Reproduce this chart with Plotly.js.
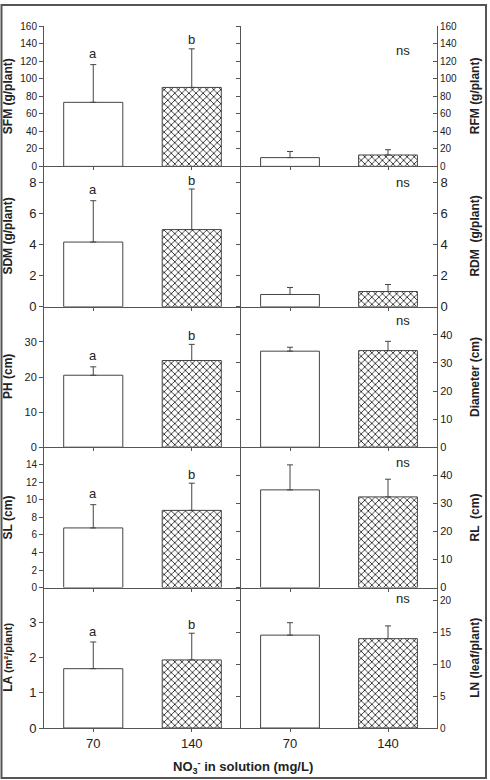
<!DOCTYPE html>
<html>
<head>
<meta charset="utf-8">
<script src="https://cdn.plot.ly/plotly-3.0.1.min.js"></script>
<style>
  html, body { margin: 0; padding: 0; background: #ffffff; }
  #chart { width: 490px; height: 780px; }
</style>
</head>
<body>
<div id="chart"></div>
<script>
// Nitrate dose treatments (mg/L NO3- in the nutrient solution)
const doses = ['70', '140'];

// Shoot traits (left column): means and upper error (SD)
const sfmMean = [73, 90];      const sfmErr = [43, 44];
const sdmMean = [4.15, 4.95];  const sdmErr = [2.65, 2.6];
const phMean  = [20.5, 24.7];  const phErr  = [2.4, 4.6];
const slMean  = [6.8, 8.8];    const slErr  = [2.65, 3.1];
const laMean  = [1.69, 1.94];  const laErr  = [0.76, 0.76];

// Root / stem traits (right column)
const rfmMean  = [10, 13];     const rfmErr  = [7, 6];
const rdmMean  = [0.79, 0.98]; const rdmErr  = [0.45, 0.45];
const diamMean = [34.2, 34.4]; const diamErr = [1.4, 3.3];
const rlMean   = [34.8, 32.3]; const rlErr   = [8.9, 6.3];
const lnMean   = [14.55, 14.0];const lnErr   = [1.95, 2.0];

// Significance letters
const leftLetters = ['a', 'b'];
const rightLetter = 'ns';

// Axis titles and tick sets
const leftTitles  = ['SFM (g/plant)', 'SDM (g/plant)', 'PH (cm)', 'SL (cm)',
                     'LA <span style="font-size:11px">(m²/plant)</span>'];
const rightTitles = ['RFM (g/plant)', 'RDM  (g/plant)', 'Diameter (cm)', 'RL  (cm)', 'LN (leaf/plant)'];
const leftRanges  = [[0, 160], [0, 9], [0, 40], [0, 16], [0, 4]];
const rightRanges = [[0, 160], [0, 9], [0, 50], [0, 50], [0, 22]];
const leftTicks   = [[0, 20, 40, 60, 80, 100, 120, 140, 160], [0, 2, 4, 6, 8], [0, 10, 20, 30],
                     [0, 2, 4, 6, 8, 10, 12, 14], [0, 1, 2, 3]];
const rightTicks  = [[0, 20, 40, 60, 80, 100, 120, 140, 160], [0, 2, 4, 6, 8], [0, 10, 20, 30, 40],
                     [0, 10, 20, 30, 40], [0, 5, 10, 15, 20]];
const xTitle = '<b>NO<sub>3</sub><sup>-</sup> in solution (mg/L)</b>';

const leftMeans  = [sfmMean, sdmMean, phMean, slMean, laMean];
const leftErrs   = [sfmErr, sdmErr, phErr, slErr, laErr];
const rightMeans = [rfmMean, rdmMean, diamMean, rlMean, lnMean];
const rightErrs  = [rfmErr, rdmErr, diamErr, rlErr, lnErr];

// ---- layout geometry (pixels) ----
const W = 490, H = 780;
const L = 44, R = 437, T = 26, B = 728, MID = 241;
const PW = R - L, PH = B - T, ROWH = PH / 5;
const px2x = p => (p - L) / PW;
const py2y = p => (B - p) / PH;
const splitX = px2x(MID);

const FONT = 'Liberation Sans, Arial, sans-serif';
const INK = '#222222';
const LINE = '#555555';
const leftTickSize  = [10, 13, 11, 10, 13];
const rightTickSize = [10, 13, 11, 11, 10];
const nsFromTop = [24, 16, 14, 15, 11];

const data = [];
const layout = {
  width: W, height: H,
  margin: {l: L, r: W - R, t: T, b: H - B, pad: 0},
  paper_bgcolor: '#ffffff', plot_bgcolor: '#ffffff',
  font: {family: FONT, color: INK},
  showlegend: false,
  annotations: [],
  shapes: []
};

const axName = (kind, n) => kind + 'axis' + (n === 1 ? '' : n);
const axRef  = (kind, n) => kind + (n === 1 ? '' : n);

function barTrace(means, errs, n) {
  return {
    type: 'bar',
    x: doses,
    y: means,
    xaxis: axRef('x', n),
    yaxis: axRef('y', n),
    width: 0.6,
    marker: {
      color: '#ffffff',
      line: {color: '#444444', width: 1},
      pattern: {shape: ['', 'x'], fgcolor: '#1a1a1a', bgcolor: '#ffffff', size: 5, solidity: 0.3}
    },
    error_y: {
      type: 'data', symmetric: false, array: errs, arrayminus: [0, 0],
      color: '#444444', thickness: 1, width: 3
    },
    hoverinfo: 'skip'
  };
}

for (let r = 0; r < 5; r++) {
  const yDom = [1 - (r + 1) / 5, 1 - r / 5];
  const bottomRow = r === 4;
  const rowCenter = T + ROWH * (r + 0.5);

  [0, 1].forEach(c => {
    const n = 2 * r + c + 1;
    const means = c === 0 ? leftMeans[r] : rightMeans[r];
    const errs  = c === 0 ? leftErrs[r]  : rightErrs[r];
    data.push(barTrace(means, errs, n));

    layout[axName('x', n)] = {
      domain: c === 0 ? [0, splitX] : [splitX, 1],
      anchor: axRef('y', n),
      type: 'category',
      range: [-0.5, 1.5],
      showline: true, linecolor: LINE, linewidth: 1,
      ticks: 'outside', ticklen: 3, tickwidth: 1, tickcolor: LINE,
      showticklabels: bottomRow,
      tickfont: {size: 13, family: FONT, color: INK},
      showgrid: false, zeroline: false, fixedrange: true
    };

    const yax = {
      domain: yDom,
      anchor: axRef('x', n),
      range: c === 0 ? leftRanges[r] : rightRanges[r],
      tickmode: 'array',
      tickvals: c === 0 ? leftTicks[r] : rightTicks[r],
      showline: true, linecolor: LINE, linewidth: 1,
      ticklen: 4, tickwidth: 1, tickcolor: LINE,
      tickfont: {size: c === 0 ? leftTickSize[r] : rightTickSize[r], family: FONT, color: INK},
      showgrid: false, zeroline: false, fixedrange: true
    };
    if (c === 0) {
      yax.side = 'left';
      yax.ticks = 'outside';
    } else {
      yax.side = 'right';
      yax.ticks = 'inside';
    }
    layout[axName('y', n)] = yax;

    if (c === 1) {
      // divider between columns: a companion axis with ticks pointing left
      const m = 10 + r + 1;
      layout[axName('y', m)] = {
        overlaying: axRef('y', n),
        anchor: axRef('x', n),
        side: 'left',
        range: rightRanges[r],
        tickmode: 'array',
        tickvals: rightTicks[r],
        ticks: 'outside', ticklen: 4, tickwidth: 1, tickcolor: LINE,
        showticklabels: false,
        showline: true, linecolor: LINE, linewidth: 1,
        showgrid: false, zeroline: false, fixedrange: true
      };
      data.push({type: 'scatter', mode: 'markers', x: [], y: [],
                 xaxis: axRef('x', n), yaxis: axRef('y', m),
                 hoverinfo: 'skip', showlegend: false});
    }

    // significance marks
    if (c === 0) {
      leftLetters.forEach((lab, i) => {
        layout.annotations.push({
          xref: axRef('x', n), yref: axRef('y', n),
          x: i, y: means[i] + errs[i],
          text: lab, showarrow: false,
          xanchor: 'center', yanchor: 'middle', yshift: i === 0 ? 11 : 9,
          font: {size: 13, family: FONT, color: INK}
        });
      });
    } else {
      layout.annotations.push({
        xref: axRef('x', n) + ' domain', yref: axRef('y', n) + ' domain',
        x: (403 - MID) / (R - MID), y: 1 - nsFromTop[r] / ROWH,
        text: rightLetter, showarrow: false,
        xanchor: 'center', yanchor: 'middle',
        font: {size: 13, family: FONT, color: INK}
      });
    }
  });

  // y axis titles
  layout.annotations.push({
    xref: 'paper', yref: 'paper', x: px2x(8), y: py2y(rowCenter),
    text: '<b>' + leftTitles[r] + '</b>', textangle: -90, showarrow: false,
    xanchor: 'center', yanchor: 'middle',
    font: {size: 12, family: FONT, color: INK}
  });
  layout.annotations.push({
    xref: 'paper', yref: 'paper', x: px2x(475), y: py2y(rowCenter),
    text: '<b>' + rightTitles[r] + '</b>', textangle: -90, showarrow: false,
    xanchor: 'center', yanchor: 'middle',
    font: {size: 12, family: FONT, color: INK}
  });
}

// shared x axis title
layout.annotations.push({
  xref: 'paper', yref: 'paper', x: px2x(243), y: py2y(767),
  text: xTitle, showarrow: false, xanchor: 'center', yanchor: 'middle',
  font: {size: 13, family: FONT, color: INK}
});

// outer frame
layout.shapes.push({
  type: 'rect', xref: 'paper', yref: 'paper',
  x0: px2x(1.5), x1: px2x(486), y0: py2y(778), y1: py2y(5),
  line: {color: LINE, width: 2}, fillcolor: 'rgba(0,0,0,0)', layer: 'above'
});

Plotly.newPlot('chart', data, layout, {staticPlot: true, displayModeBar: false});
</script>
</body>
</html>
